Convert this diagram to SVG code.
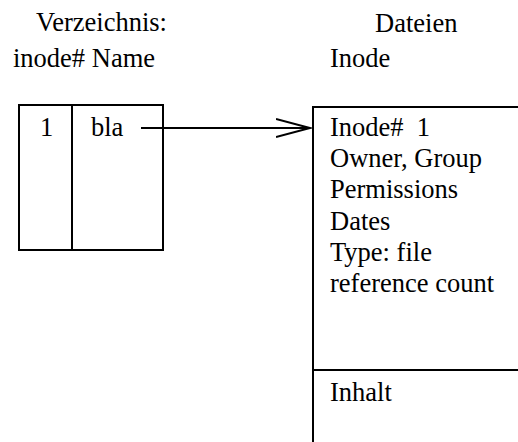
<svg xmlns="http://www.w3.org/2000/svg" width="518" height="442" viewBox="0 0 518 442">
  <style>
    .box { fill: none; stroke: #000; stroke-width: 2; }
    .conn { fill: none; stroke: #000; stroke-width: 2; }
    .lbl { font-family: "Liberation Serif", "Times New Roman", serif; font-size: 26.5px; fill: #000; }
  </style>
  <defs>
    <marker id="openArrow" markerUnits="userSpaceOnUse" markerWidth="40" markerHeight="24" refX="34" refY="10" orient="auto">
      <path d="M0,1 L34,10 L0,19" fill="none" stroke="#000" stroke-width="2"/>
    </marker>
  </defs>
  <rect width="518" height="442" fill="#fff"/>

  <g id="headings">
    <text class="lbl" x="36" y="31">Verzeichnis:</text>
    <text class="lbl" x="375" y="31.5">Dateien</text>
    <text class="lbl" x="13" y="66.5">inode# Name</text>
    <text class="lbl" x="330" y="66.5">Inode</text>
  </g>

  <g id="directory">
    <rect class="box" x="19" y="105" width="144" height="145"/>
    <line class="box" x1="72" y1="105" x2="72" y2="250"/>
    <text class="lbl" x="40" y="136">1</text>
    <text class="lbl" x="91" y="136">bla</text>
  </g>

  <g id="inode">
    <path class="box" d="M518,107 H313 V442"/>
    <line class="box" x1="313" y1="370" x2="518" y2="370"/>
    <text class="lbl" x="330" y="136" xml:space="preserve">Inode#  1</text>
    <text class="lbl" x="330" y="167">Owner, Group</text>
    <text class="lbl" x="330" y="198">Permissions</text>
    <text class="lbl" x="330" y="230">Dates</text>
    <text class="lbl" x="330" y="261">Type: file</text>
    <text class="lbl" x="330" y="291.5">reference count</text>
    <text class="lbl" x="330" y="400.5">Inhalt</text>
  </g>

  <g id="connectors">
    <line class="conn" x1="141" y1="128" x2="310" y2="128" marker-end="url(#openArrow)"/>
  </g>
</svg>
